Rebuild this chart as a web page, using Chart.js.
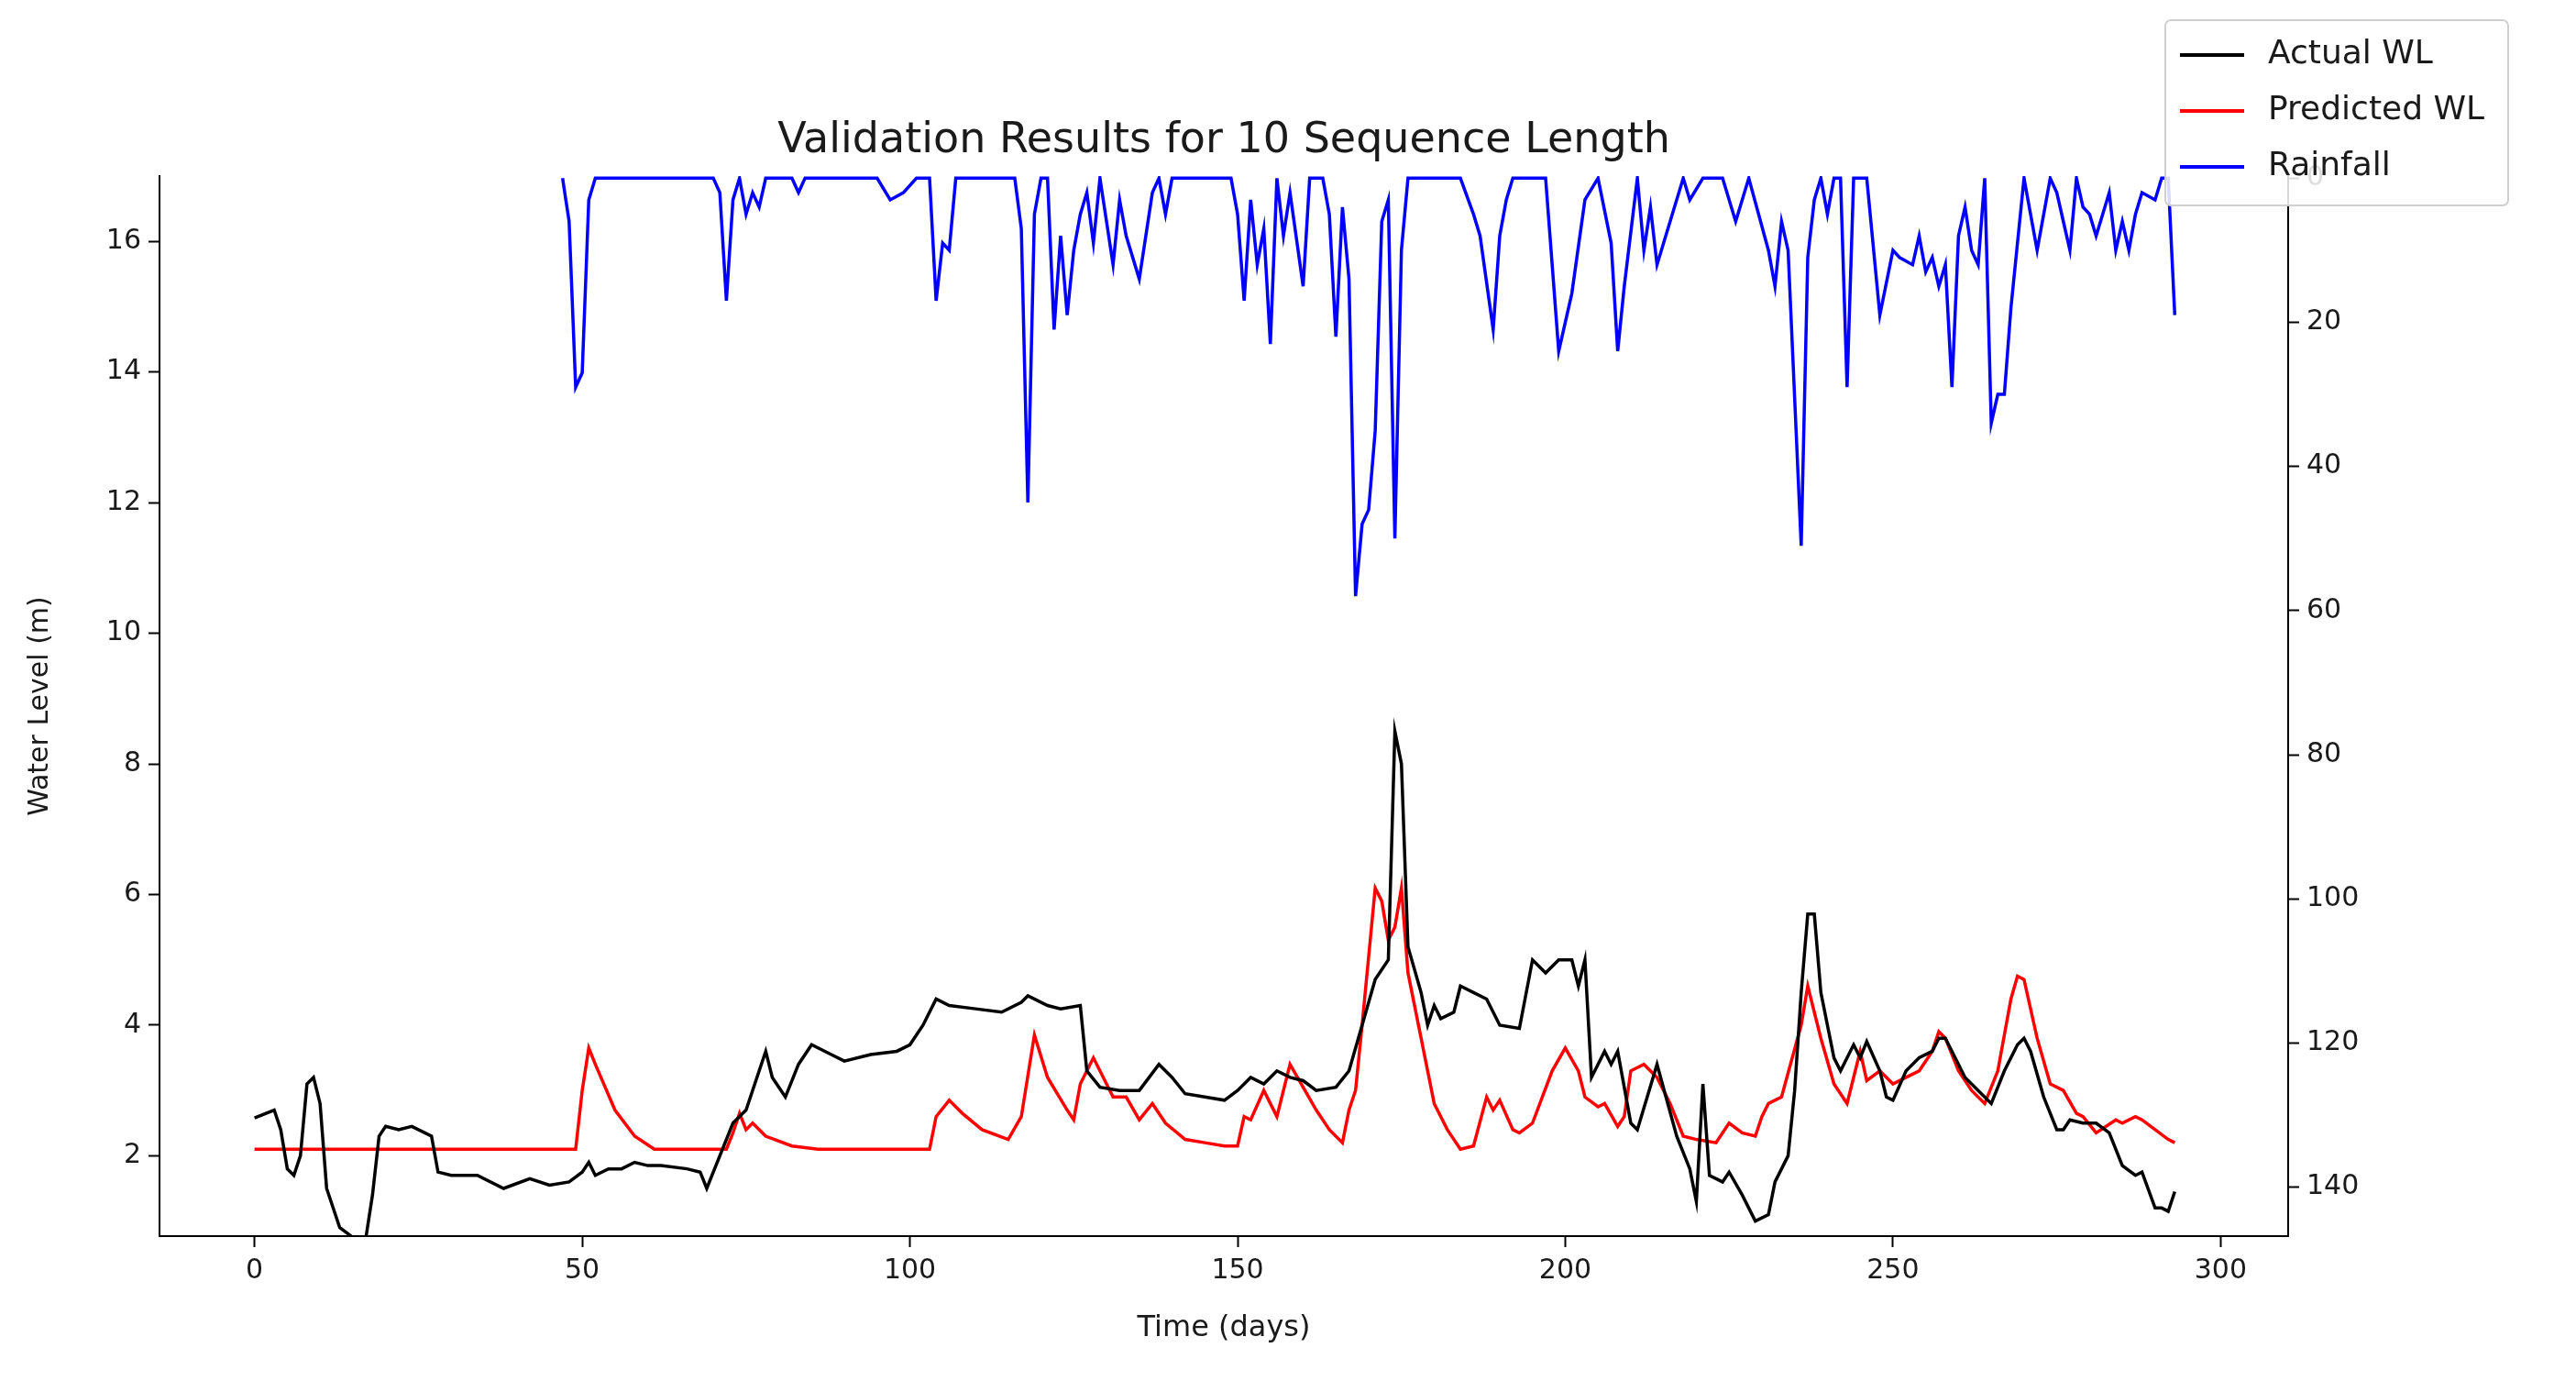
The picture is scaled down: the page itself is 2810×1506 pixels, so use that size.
<!DOCTYPE html>
<html>
<head>
<meta charset="utf-8">
<script src="https://cdn.jsdelivr.net/npm/chart.js@4.4.1/dist/chart.umd.min.js"></script>
<style>
  html, body { margin: 0; padding: 0; background: #fff; }
  #wrap { width: 2810px; height: 1506px; }
</style>
</head>
<body>
<div id="wrap"><canvas id="wl"></canvas></div>
<script>
// values
const actualDays = [0,3,4,5,6,7,8,9,10,11,13,15,17,18,19,20,22,24,27,28,30,34,38,42,45,48,50,51,52,54,56,58,60,62,66,68,69,71,73,75,77,78,79,81,83,85,88,90,94,98,100,102,104,106,110,114,117,118,121,123,126,127,129,132,135,138,140,142,145,148,150,152,154,156,158,160,162,165,167,169,171,173,174,175,176,178,179,180,181,183,184,186,188,190,193,195,197,199,201,202,203,204,206,207,208,210,211,214,217,219,220,221,222,224,225,227,229,231,232,234,235,236,237,238,239,241,242,244,245,246,248,249,250,252,254,256,257,258,259,261,263,265,267,269,270,271,273,275,276,277,279,281,283,285,287,288,290,291,292,293];
const actualWL = [2.58,2.7,2.4,1.8,1.7,2.0,3.1,3.2,2.8,1.5,0.9,0.75,0.75,1.4,2.3,2.45,2.4,2.45,2.3,1.75,1.7,1.7,1.5,1.65,1.55,1.6,1.75,1.9,1.7,1.8,1.8,1.9,1.85,1.85,1.8,1.75,1.5,2.0,2.5,2.7,3.3,3.6,3.2,2.9,3.4,3.7,3.55,3.45,3.55,3.6,3.7,4.0,4.4,4.3,4.25,4.2,4.35,4.45,4.3,4.25,4.3,3.3,3.05,3.0,3.0,3.4,3.2,2.95,2.9,2.85,3.0,3.2,3.1,3.3,3.2,3.15,3.0,3.05,3.3,4.0,4.7,5.0,8.5,8.0,5.2,4.5,4.0,4.3,4.1,4.2,4.6,4.5,4.4,4.0,3.95,5.0,4.8,5.0,5.0,4.6,5.0,3.2,3.6,3.4,3.6,2.5,2.4,3.4,2.3,1.8,1.3,3.1,1.7,1.6,1.75,1.4,1.0,1.1,1.6,2.0,3.0,4.5,5.7,5.7,4.5,3.5,3.3,3.7,3.5,3.75,3.3,2.9,2.85,3.3,3.5,3.6,3.8,3.8,3.6,3.2,3.0,2.8,3.3,3.7,3.8,3.6,2.9,2.4,2.4,2.55,2.5,2.5,2.35,1.85,1.7,1.75,1.2,1.2,1.15,1.45];

const predDays = [0,49,50,51,52,55,58,61,72,73,74,75,76,78,82,86,103,104,106,108,111,115,117,119,121,124,125,126,128,129,131,133,135,137,139,142,145,148,150,151,152,154,156,158,160,162,164,166,167,168,169,171,172,173,174,175,176,178,180,182,184,186,188,189,190,192,193,195,198,200,202,203,205,206,208,209,210,212,214,216,218,220,223,225,227,229,230,231,233,236,237,239,241,243,245,246,248,250,252,254,256,257,258,260,262,264,266,268,269,270,272,274,276,278,279,281,284,285,287,288,290,292,293];
const predWL = [2.1,2.1,3.0,3.65,3.4,2.7,2.3,2.1,2.1,2.35,2.65,2.4,2.5,2.3,2.15,2.1,2.1,2.6,2.85,2.65,2.4,2.25,2.6,3.85,3.2,2.7,2.55,3.1,3.5,3.3,2.9,2.9,2.55,2.8,2.5,2.25,2.2,2.15,2.15,2.6,2.55,3.0,2.6,3.4,3.05,2.7,2.4,2.2,2.7,3.0,4.0,6.1,5.9,5.3,5.5,6.1,4.8,3.8,2.8,2.4,2.1,2.15,2.9,2.7,2.85,2.4,2.35,2.5,3.3,3.65,3.3,2.9,2.75,2.8,2.45,2.6,3.3,3.4,3.2,2.8,2.3,2.25,2.2,2.5,2.35,2.3,2.6,2.8,2.9,4.0,4.6,3.8,3.1,2.8,3.6,3.15,3.3,3.1,3.2,3.3,3.6,3.9,3.8,3.3,3.0,2.8,3.3,4.4,4.75,4.7,3.8,3.1,3.0,2.65,2.6,2.35,2.55,2.5,2.6,2.55,2.4,2.25,2.2];

const rainDays = [47,48,49,50,51,52,70,71,72,73,74,75,76,77,78,82,83,84,95,97,99,101,103,104,105,106,107,116,117,118,119,120,121,122,123,124,125,126,127,128,129,131,132,133,135,137,138,139,140,149,150,151,152,153,154,155,156,157,158,160,161,163,164,165,166,167,168,169,170,171,172,173,174,175,176,178,184,186,187,189,190,191,192,197,199,201,203,205,207,208,209,211,212,213,214,216,218,219,221,224,226,227,228,231,232,233,234,236,237,238,239,240,241,242,243,244,246,248,250,251,253,254,255,256,257,258,259,260,261,262,263,264,265,266,267,268,270,272,274,275,276,277,278,279,280,281,282,283,284,285,286,287,288,290,291,292,293];
const rainfall = [0,6,29,27,3,0,0,2,17,3,0,5,2,4,0,0,2,0,0,3,2,0,0,17,9,10,0,0,7,45,5,0,0,21,8,19,10,5,2,9,0,12,3,8,14,2,0,5,0,0,5,17,3,12,7,23,0,8,2,15,0,0,5,22,4,14,58,48,46,35,6,3,50,10,0,0,0,5,8,21,8,3,0,0,24,16,3,0,9,24,15,0,10,4,12,6,0,3,0,0,6,3,0,10,15,6,10,51,11,3,0,5,0,0,29,0,0,19,10,11,12,8,13,11,15,12,29,8,4,10,12,0,34,30,30,18,0,10,0,2,6,10,0,4,5,8,5,2,10,6,10,5,2,3,0,0,19];

const xTicks = [0, 50, 100, 150, 200, 250, 300];
const wlTicks = [2, 4, 6, 8, 10, 12, 14, 16];
const rainTicks = [0, 20, 40, 60, 80, 100, 120, 140];

const FONT = "'DejaVu Sans', sans-serif";
const TEXT = "#1a1a1a";

function pts(xs, ys) { return xs.map((d, i) => ({ x: d, y: ys[i] })); }
function onlyTicks(list) { return function (scale) { scale.ticks = list.map(v => ({ value: v })); }; }

const series = [
  { label: "Actual WL", color: "#000000" },
  { label: "Predicted WL", color: "#ff0000" },
  { label: "Rainfall", color: "#0000ff" }
];

// title + matplotlib-style legend box
const decor = {
  id: "decor",
  afterDraw(chart) {
    const { ctx, chartArea } = chart;
    ctx.save();
    ctx.fillStyle = TEXT;
    ctx.font = "46px " + FONT;
    ctx.textAlign = "center";
    ctx.textBaseline = "alphabetic";
    ctx.fillText("Validation Results for 10 Sequence Length", (chartArea.left + chartArea.right) / 2, 166);

    const bx = 2362, by = 22, bw = 374, bh = 202;
    ctx.fillStyle = "rgba(255,255,255,0.85)";
    ctx.strokeStyle = "#d0d0d0";
    ctx.lineWidth = 2;
    ctx.beginPath();
    ctx.roundRect(bx, by, bw, bh, 6);
    ctx.fill();
    ctx.stroke();
    ctx.font = "36px " + FONT;
    ctx.textAlign = "left";
    ctx.textBaseline = "middle";
    series.forEach((s, i) => {
      const yy = by + 38 + i * 61;
      ctx.strokeStyle = s.color;
      ctx.lineWidth = 4;
      ctx.beginPath();
      ctx.moveTo(bx + 16, yy);
      ctx.lineTo(bx + 86, yy);
      ctx.stroke();
      ctx.fillStyle = TEXT;
      ctx.fillText(s.label, bx + 112, yy);
    });
    ctx.restore();
  }
};

const axisCommon = {
  border: { color: "#000", width: 2 },
  grid: { drawOnChartArea: false, drawTicks: true, tickLength: 12, tickWidth: 2, tickColor: "#000" },
  ticks: { color: TEXT, font: { family: FONT, size: 30 }, padding: 8, autoSkip: false }
};

new Chart(document.getElementById("wl"), {
  type: "line",
  data: {
    datasets: [
      { label: series[0].label, data: pts(actualDays, actualWL), borderColor: series[0].color, yAxisID: "y" },
      { label: series[1].label, data: pts(predDays, predWL), borderColor: series[1].color, yAxisID: "y" },
      { label: series[2].label, data: pts(rainDays, rainfall), borderColor: series[2].color, yAxisID: "y2" }
    ]
  },
  options: {
    responsive: true,
    maintainAspectRatio: false,
    animation: false,
    layout: { padding: { top: 192, right: 0, left: 22, bottom: 34 } },
    elements: { point: { radius: 0 }, line: { borderWidth: 3.5, tension: 0 } },
    plugins: { legend: { display: false }, tooltip: { enabled: false } },
    scales: {
      x: {
        ...axisCommon,
        type: "linear", min: -14.5, max: 310.3,
        afterBuildTicks: onlyTicks(xTicks),
        afterFit(s) { s.height = 124; },
        title: { display: true, text: "Time (days)", color: TEXT, font: { family: FONT, size: 32 }, padding: { top: 2 } }
      },
      y: {
        ...axisCommon,
        position: "left", min: 0.77, max: 17.0,
        afterBuildTicks: onlyTicks(wlTicks),
        afterFit(s) { s.width = 152; },
        title: { display: true, text: "Water Level (m)", color: TEXT, font: { family: FONT, size: 30 }, padding: { bottom: 2 } }
      },
      y2: {
        ...axisCommon,
        position: "right", reverse: true, min: -0.3, max: 146.8,
        afterBuildTicks: onlyTicks(rainTicks),
        afterFit(s) { s.width = 314; }
      }
    }
  },
  plugins: [decor]
});
</script>
</body>
</html>
